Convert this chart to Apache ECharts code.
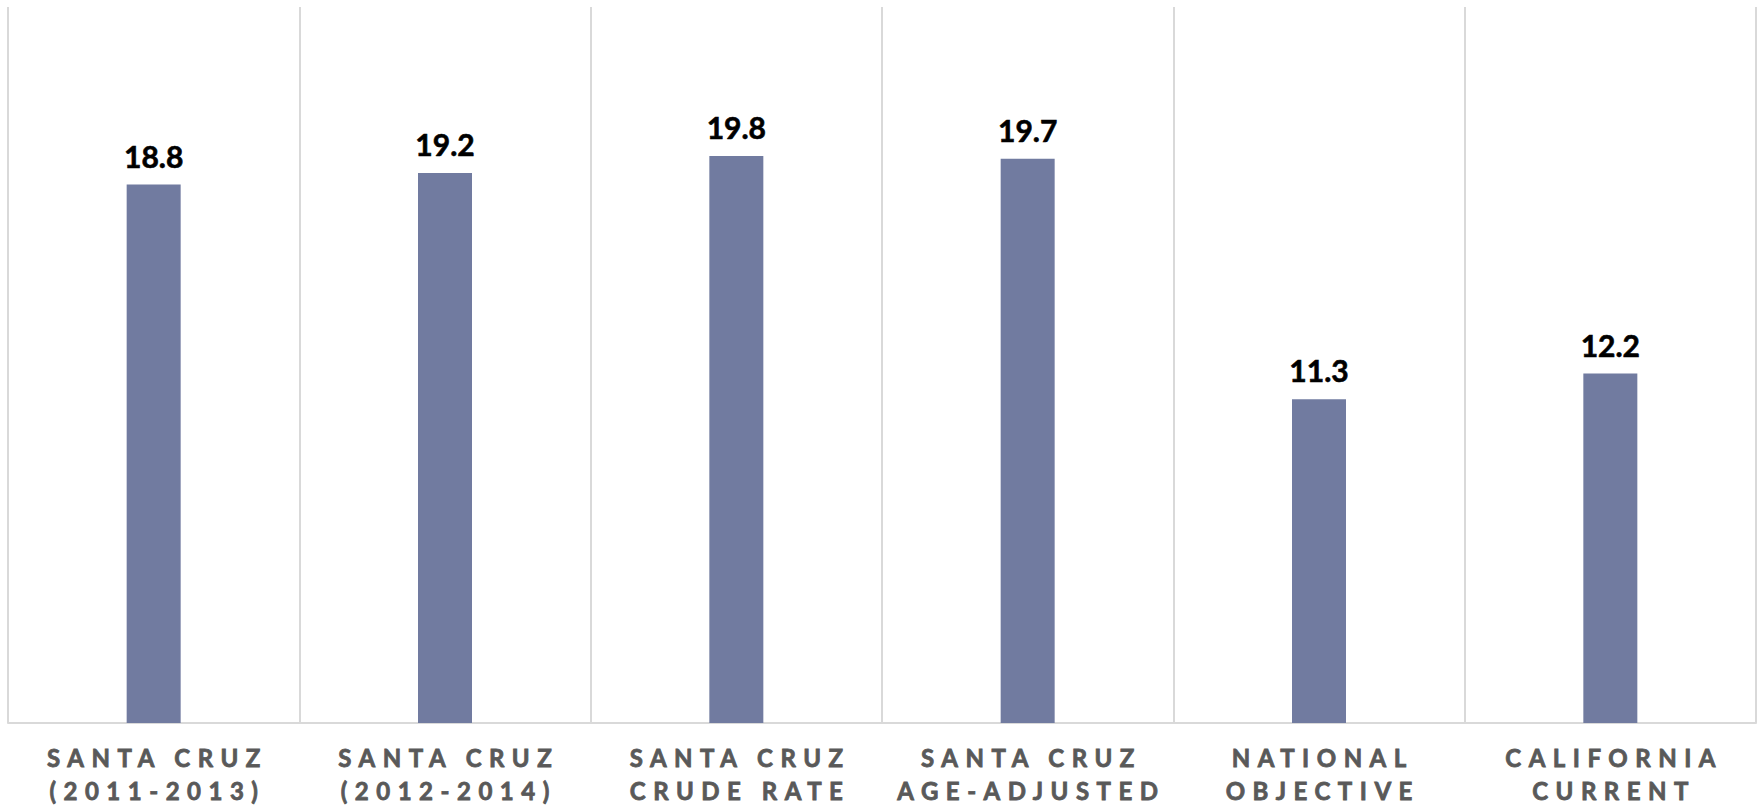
<!DOCTYPE html>
<html>
<head>
<meta charset="utf-8">
<script src="https://cdn.jsdelivr.net/npm/echarts@6/dist/echarts.min.js"></script>
<style>
  html, body { margin: 0; padding: 0; background: #fff; }
  #chart { width: 1757px; height: 808px; }
  #chart text[fill="#595959"] { letter-spacing: 7.5px; }
</style>
</head>
<body>
<div id="chart"></div>
<script>
const categories = [
  'SANTA CRUZ\n(2011-2013)',
  'SANTA CRUZ\n(2012-2014)',
  'SANTA CRUZ\nCRUDE RATE',
  'SANTA CRUZ\nAGE-ADJUSTED',
  'NATIONAL\nOBJECTIVE',
  'CALIFORNIA\nCURRENT'
];
const values = [18.8, 19.2, 19.8, 19.7, 11.3, 12.2];
const yMin = 0;
const yMax = 25;

const chart = echarts.init(document.getElementById('chart'), null, { renderer: 'svg' });
chart.setOption({
  animation: false,
  backgroundColor: '#ffffff',
  grid: { left: 8, right: 1, top: 7, bottom: 85, containLabel: false },
  xAxis: {
    type: 'category',
    data: categories,
    boundaryGap: true,
    axisTick: { show: false },
    axisLine: { show: true, lineStyle: { color: '#d9d9d9', width: 2 } },
    splitLine: { show: true, lineStyle: { color: '#d9d9d9', width: 2 } },
    axisLabel: {
      interval: 0,
      margin: 18,
      color: '#595959',
      fontFamily: 'Lato',
      fontWeight: 'bold',
      fontSize: 24,
      lineHeight: 33,
      textBorderColor: '#595959',
      textBorderWidth: 0.8,
      padding: [0, 0, 0, 7.5]
    }
  },
  yAxis: {
    type: 'value',
    min: yMin,
    max: yMax,
    show: false,
    splitLine: { show: false }
  },
  series: [{
    type: 'bar',
    data: values,
    barWidth: 54,
    itemStyle: { color: '#717BA0' },
    label: {
      show: true,
      position: 'top',
      distance: 14,
      color: '#000000',
      fontFamily: 'Lato',
      fontWeight: 'bold',
      fontSize: 30,
      textBorderColor: '#000000',
      textBorderWidth: 0.6,
      formatter: p => p.value.toFixed(1)
    }
  }]
});
</script>
</body>
</html>
